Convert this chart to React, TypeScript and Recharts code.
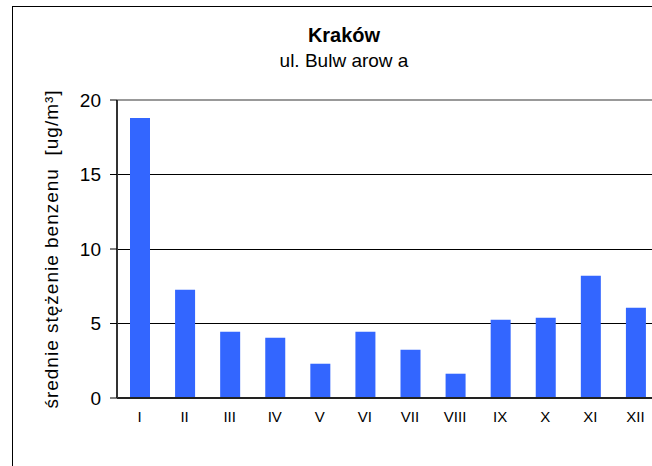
import { BarChart, Bar, XAxis, YAxis, CartesianGrid, ReferenceLine } from "recharts"

const months = ["I", "II", "III", "IV", "V", "VI", "VII", "VIII", "IX", "X", "XI", "XII"]
const benzene = [18.8, 7.27, 4.45, 4.05, 2.3, 4.45, 3.24, 1.63, 5.26, 5.39, 8.2, 6.06]
const yTicks = [0, 5, 10, 15, 20]

const data = months.map((m, i) => ({ month: m, value: benzene[i] }))

const font = "'Liberation Sans', Arial, sans-serif"

export default function App() {
    return (
        <div style={{ position: "absolute", left: 0, top: 0, width: 652, height: 466, overflow: "hidden", background: "#fff", fontFamily: font }}>
            {/* outer frame, cut off at the right and bottom like the original */}
            <div style={{ position: "absolute", left: 12, top: 6, width: 700, height: 520, border: "1px solid #000" }} />
            <div style={{ position: "absolute", left: 0, width: 688, top: 24, textAlign: "center", fontSize: 20, fontWeight: "bold", color: "#000" }}>
                Kraków
            </div>
            <div style={{ position: "absolute", left: 0, width: 688, top: 50, textAlign: "center", fontSize: 19, color: "#000" }}>
                ul. Bulw arow a
            </div>
            <div style={{ position: "absolute", left: 0, top: 0 }}>
                <BarChart
                    width={680}
                    height={466}
                    data={data}
                    margin={{ top: 100, right: 22, bottom: 38, left: 0 }}
                >
                    <CartesianGrid horizontal vertical={false} stroke="#000" strokeWidth={1} shapeRendering="crispEdges" />
                    <XAxis
                        dataKey="month"
                        height={30}
                        axisLine={{ stroke: "#222", strokeWidth: 2 }}
                        tickLine={false}
                        tickSize={0}
                        tickMargin={13}
                        tick={{ fontSize: 15, fill: "#000", fontFamily: font }}
                        interval={0}
                    />
                    <YAxis
                        width={117}
                        domain={[0, 20]}
                        ticks={yTicks}
                        axisLine={{ stroke: "#333", strokeWidth: 2 }}
                        tickLine={{ stroke: "#000" }}
                        tickSize={7}
                        tickMargin={9}
                        tick={{ fontSize: 19, fill: "#000", fontFamily: font }}
                        label={{
                            content: () => (
                                <text
                                    x={51}
                                    y={249}
                                    transform="rotate(-90 51 249)"
                                    textAnchor="middle"
                                    dominantBaseline="central"
                                    fontSize={19}
                                    letterSpacing={1}
                                    fontFamily={font}
                                    fill="#000"
                                    style={{ whiteSpace: "pre" }}
                                >
                                    {"średnie stężenie benzenu  [ug/m³]"}
                                </text>
                            ),
                        }}
                    />
                    <ReferenceLine y={20} stroke="#999" strokeWidth={2} />
                    <Bar dataKey="value" fill="#3366FF" barSize={20} isAnimationActive={false} />
                </BarChart>
            </div>
        </div>
    )
}
